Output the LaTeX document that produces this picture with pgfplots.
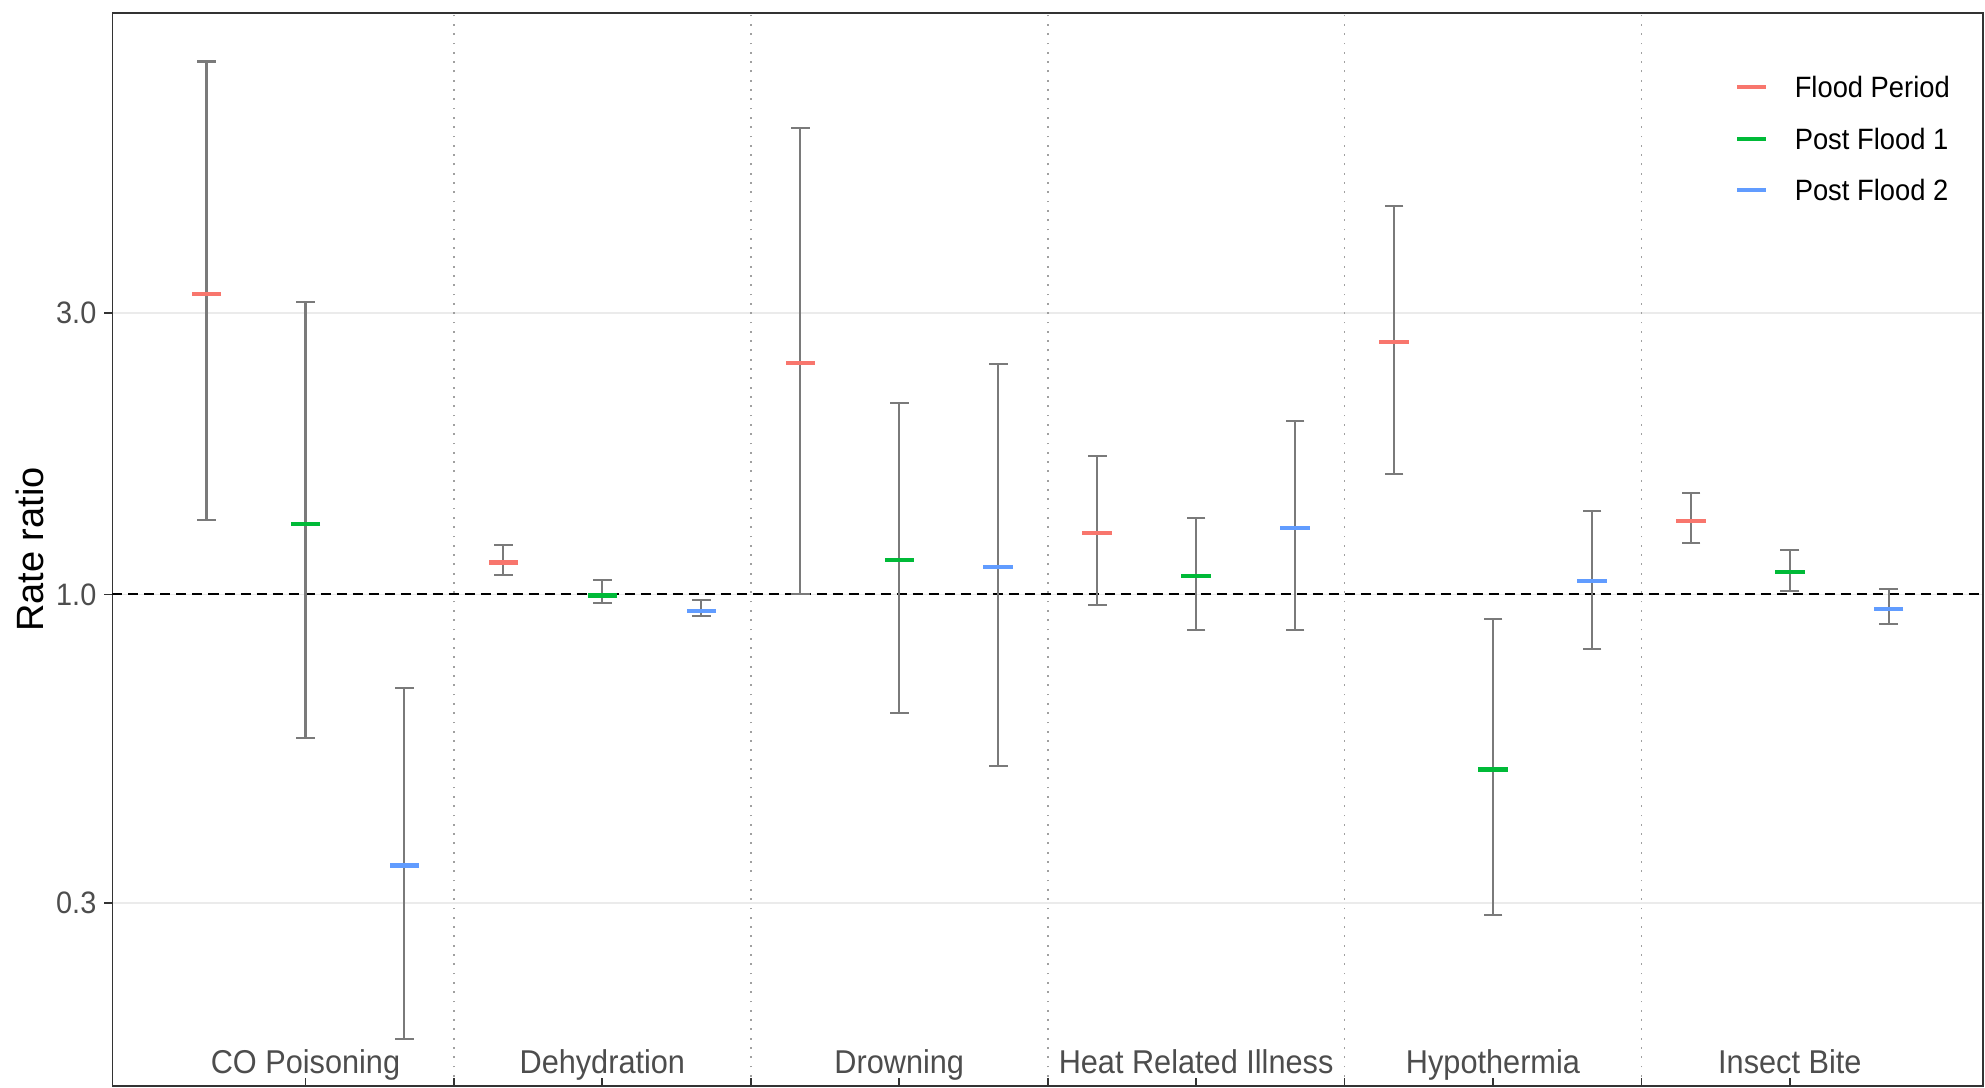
\documentclass[border=0pt]{standalone}
\usepackage{fontspec}
\setmainfont{Liberation Sans}[FakeStretch=0.93]
\newfontfamily\ylabfont{Liberation Sans}
\usepackage{pgfplots}
\pgfplotsset{compat=1.18}
\definecolor{fpcol}{HTML}{F8766D}
\definecolor{pfacol}{HTML}{00BA38}
\definecolor{pfbcol}{HTML}{619CFF}
\definecolor{axcol}{HTML}{333333}
\definecolor{tickcol}{HTML}{4D4D4D}
\definecolor{gridcol}{HTML}{EBEBEB}
\definecolor{divcol}{HTML}{A0A0A0}
\definecolor{whcol}{HTML}{7A7A7A}
\begin{document}
\begin{tikzpicture}
\begin{axis}[
  at={(0,0)}, anchor=south west, scale only axis,
  width=935.15pt, height=536.55pt,
  xmin=0.35, xmax=6.65,
  ymode=log, ymin=0.1467, ymax=9.685,
  axis line style={draw=axcol, line width=0.9pt},
  xtick={1,2,3,4,5,6},
  xticklabels={CO Poisoning, Dehydration, Drowning, Heat Related Illness, Hypothermia, Insect Bite},
  xtick pos=left, ytick pos=left,
  tick align=inside,
  major tick length=4pt,
  xtick style={draw=axcol, line width=0.9pt},
  ytick style={draw=axcol, line width=0.9pt, xshift=-4pt},
  ytick={0.3,1,3}, yticklabels={0.3,1.0,3.0},
  minor ytick={},
  yticklabel style={font=\fontsize{15.5}{15.5}\selectfont, text=tickcol, inner sep=0pt, anchor=east, xshift=-7.9pt},
  xticklabel style={font=\fontsize{16.5}{16.5}\selectfont, text=tickcol, inner sep=0pt, anchor=base, yshift=6.5pt},
  ymajorgrids=true,
  major grid style={draw=gridcol, line width=0.9pt},
  extra x ticks={1.5,2.5,3.5,4.5,5.5},
  extra x tick labels={},
  extra x tick style={grid=major, major grid style={draw=divcol, line width=0.9pt, dash pattern=on 0.9pt off 3.75pt}, tick style={draw=none}},
  ylabel={\ylabfont Rate ratio},
  every axis y label/.style={at={(rel axis cs:0,0.5)}, xshift=-41.25pt, rotate=90, anchor=center, font=\fontsize{19}{19}\selectfont, text=black},
  legend style={draw=none, fill=none, at={(0.8675,0.941)}, anchor=north west,
    font=\fontsize{14.7}{14.7}\selectfont, inner sep=0pt, row sep=15.2pt,
    nodes={inner sep=0pt, text height=10.5pt, text depth=0pt},
    /tikz/every odd column/.append style={column sep=13.2pt}},
  legend cell align=left,
  legend image code/.code={\draw[line width=2pt] (0pt,0pt) -- (14.5pt,0pt);},
  wh/.style={color=whcol, line width=1.05pt, mark=-, mark size=4.7pt, mark options={solid, line width=1.05pt}, forget plot},
  est/.style={only marks, mark=-, mark size=7.35pt, line width=2.1pt, mark options={solid, line width=2.1pt}},
]
% reference line at 1
\addplot[black, line width=1pt, dash pattern=on 5pt off 3pt, forget plot] coordinates {(0.35,1) (6.65,1)};
% Flood Period whiskers (x = category - 1/3)
\addplot[wh] coordinates {(0.6667,1.337) (0.6667,8.01)};
\addplot[wh] coordinates {(1.6667,1.079) (1.6667,1.212)};
\addplot[wh] coordinates {(2.6667,1.000) (2.6667,6.19)};
\addplot[wh] coordinates {(3.6667,0.959) (3.6667,1.719)};
\addplot[wh] coordinates {(4.6667,1.598) (4.6667,4.56)};
\addplot[wh] coordinates {(5.6667,1.221) (5.6667,1.486)};
% Post Flood 1 whiskers
\addplot[wh] coordinates {(1,0.570) (1,3.131)};
\addplot[wh] coordinates {(2,0.968) (2,1.059)};
\addplot[wh] coordinates {(3,0.629) (3,2.110)};
\addplot[wh] coordinates {(4,0.869) (4,1.350)};
\addplot[wh] coordinates {(5,0.286) (5,0.909)};
\addplot[wh] coordinates {(6,1.012) (6,1.189)};
% Post Flood 2 whiskers
\addplot[wh] coordinates {(1.3333,0.176) (1.3333,0.694)};
\addplot[wh] coordinates {(2.3333,0.918) (2.3333,0.977)};
\addplot[wh] coordinates {(3.3333,0.512) (3.3333,2.456)};
\addplot[wh] coordinates {(4.3333,0.869) (4.3333,1.965)};
\addplot[wh] coordinates {(5.3333,0.809) (5.3333,1.384)};
\addplot[wh] coordinates {(6.3333,0.892) (6.3333,1.020)};
% point estimates
\addplot[est, color=fpcol]
  coordinates {(0.6667,3.233) (1.6667,1.133) (2.6667,2.466) (3.6667,1.271) (4.6667,2.678) (5.6667,1.331)};
\addlegendentry{Flood Period}
\addplot[est, color=pfacol]
  coordinates {(1,1.318) (2,0.996) (3,1.143) (4,1.073) (5,0.505) (6,1.093)};
\addlegendentry{Post Flood 1}
\addplot[est, color=pfbcol]
  coordinates {(1.3333,0.347) (2.3333,0.938) (3.3333,1.112) (4.3333,1.295) (5.3333,1.053) (6.3333,0.946)};
\addlegendentry{Post Flood 2}
\end{axis}
\pgfresetboundingbox
\path (-56.25pt,-0.5pt) rectangle (936.25pt,543pt);
\end{tikzpicture}
\end{document}
